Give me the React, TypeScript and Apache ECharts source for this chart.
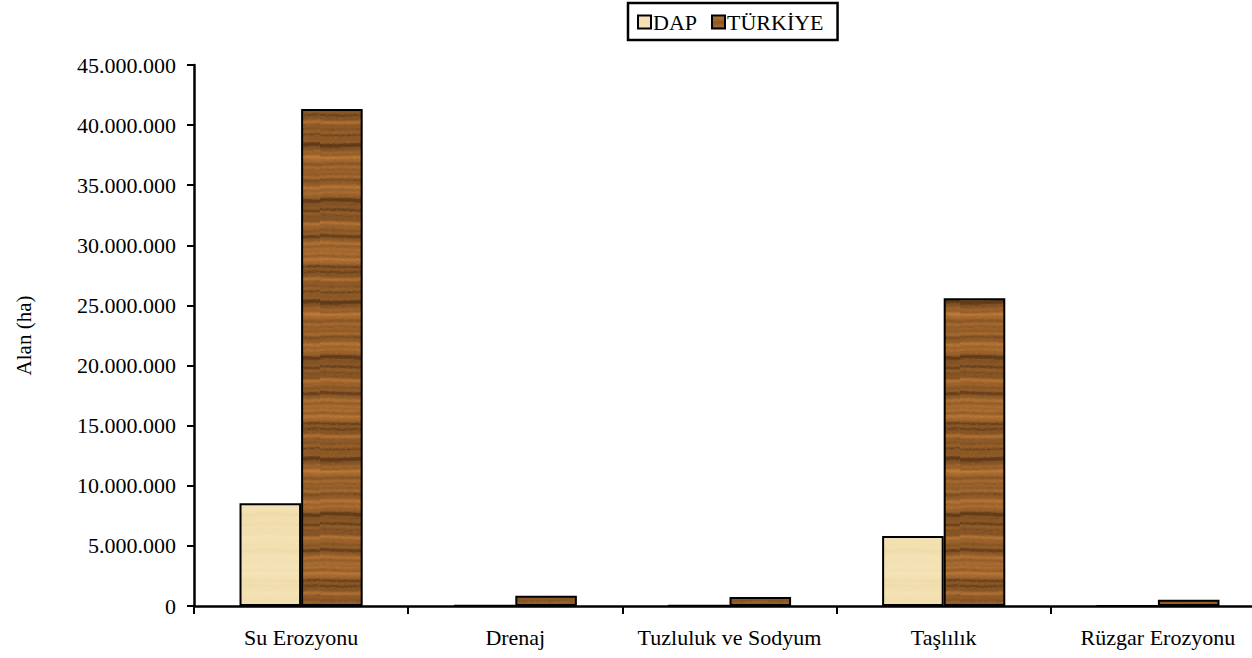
import React, { useEffect, useRef } from "react";
import * as echarts from "echarts";

const categories = ["Su Erozyonu", "Drenaj", "Tuzluluk ve Sodyum", "Taşlılık", "Rüzgar Erozyonu"];
const dapValues = [8550000, 40000, 40000, 5820000, 20000];
const turkiyeValues = [41350000, 850000, 750000, 25600000, 520000];
const yTicks = { min: 0, max: 45000000, interval: 5000000 };

function hash(x: number, y: number): number {
  const s = Math.sin(x * 127.1 + y * 311.7) * 43758.5453;
  return s - Math.floor(s);
}

function makeTexture(dark: boolean): HTMLCanvasElement {
  const w = 64;
  const h = 157;
  const c = document.createElement("canvas");
  c.width = w;
  c.height = h;
  const ctx = c.getContext("2d")!;
  const img = ctx.createImageData(w, h);
  const P = Math.PI * 2;
  for (let y = 0; y < h; y++) {
    for (let x = 0; x < w; x++) {
      const yy = y + 0.8 * Math.sin(x * 0.05 + y * 0.03);
      const u = yy / h;
      let t =
        0.6 +
        0.08 * Math.sin(u * P * 2 + 0.4) +
        0.1 * Math.sin(u * P * 5 + 1.3) +
        0.08 * Math.sin(u * P * 9 + 2.1) +
        0.07 * Math.sin(u * P * 17 + 0.7) +
        0.05 * Math.sin(u * P * 31 + 1.9) +
        0.06 * (hash(Math.floor(x / 3), y) - 0.5) +
        0.05 * (hash(x, y) - 0.5);
      if (t < 0.45) t = t * 0.8;
      t = Math.max(0, Math.min(1, t));
      let r, g, b;
      if (dark) {
        r = 62 + t * 140;
        g = 36 + t * 94;
        b = 12 + t * 48;
      } else {
        const s = (t - 0.6) * 0.9;
        r = 242 + s * 10;
        g = 224 + s * 16;
        b = 178 + s * 28;
      }
      const i = (y * w + x) * 4;
      img.data[i] = r;
      img.data[i + 1] = g;
      img.data[i + 2] = b;
      img.data[i + 3] = 255;
    }
  }
  ctx.putImageData(img, 0, 0);
  return c;
}

const fmt = (v: number) => String(v).replace(/\B(?=(\d{3})+(?!\d))/g, ".");

export default function App() {
  const ref = useRef<HTMLDivElement>(null);
  useEffect(() => {
    if (!ref.current) return;
    const chart = echarts.init(ref.current, undefined, { renderer: "svg" });
    const font = "'Liberation Serif', 'Times New Roman', serif";
    const lightPat = { image: makeTexture(false), repeat: "repeat" };
    const darkPat = { image: makeTexture(true), repeat: "repeat" };
    chart.setOption({
      animation: false,
      backgroundColor: "#fff",
      textStyle: { fontFamily: font, color: "#000" },
      legend: {
        top: 3,
        left: 628,
        borderColor: "#000",
        borderWidth: 2.5,
        padding: [8, 14, 7, 9],
        itemWidth: 13,
        itemHeight: 13,
        itemGap: 14,
        icon: "rect",
        itemStyle: { borderColor: "#000", borderWidth: 2 },
        textStyle: { fontFamily: font, fontSize: 22, color: "#000", padding: [2, 0, 0, -3] },
        data: ["DAP", "TÜRKİYE"],
      },
      grid: { left: 194, top: 65, bottom: 52, right: 0, containLabel: false },
      xAxis: {
        type: "category",
        data: categories,
        axisLine: { lineStyle: { color: "#000", width: 2.5 } },
        axisTick: { show: true, length: 8, lineStyle: { color: "#000", width: 2 } },
        axisLabel: { fontFamily: font, fontSize: 22, color: "#000", margin: 20, interval: 0 },
        splitLine: { show: false },
      },
      yAxis: {
        type: "value",
        min: yTicks.min,
        max: yTicks.max,
        interval: yTicks.interval,
        name: "Alan (ha)",
        nameLocation: "middle",
        nameGap: 160,
        nameRotate: 90,
        nameTextStyle: { fontFamily: font, fontSize: 21, color: "#000" },
        axisLine: { show: true, lineStyle: { color: "#000", width: 2.5 } },
        axisTick: { show: true, length: 7, lineStyle: { color: "#000", width: 2 } },
        axisLabel: { fontFamily: font, fontSize: 22, color: "#000", margin: 18, formatter: fmt },
        splitLine: { show: false },
      },
      series: [
        {
          name: "DAP",
          type: "bar",
          data: dapValues,
          barGap: "0%",
          barCategoryGap: "42.5%",
          itemStyle: { color: lightPat, borderColor: "#000", borderWidth: 2 },
        },
        {
          name: "TÜRKİYE",
          type: "bar",
          data: turkiyeValues,
          barGap: "0%",
          barCategoryGap: "42.5%",
          itemStyle: { color: darkPat, borderColor: "#000", borderWidth: 2 },
        },
      ],
    });
    return () => chart.dispose();
  }, []);
  return (
    <div
      style={{ position: "absolute", left: 0, top: 0, width: 1252, height: 658, overflow: "hidden" }}
    >
      <div ref={ref} style={{ width: 1265, height: 658 }} />
    </div>
  );
}
